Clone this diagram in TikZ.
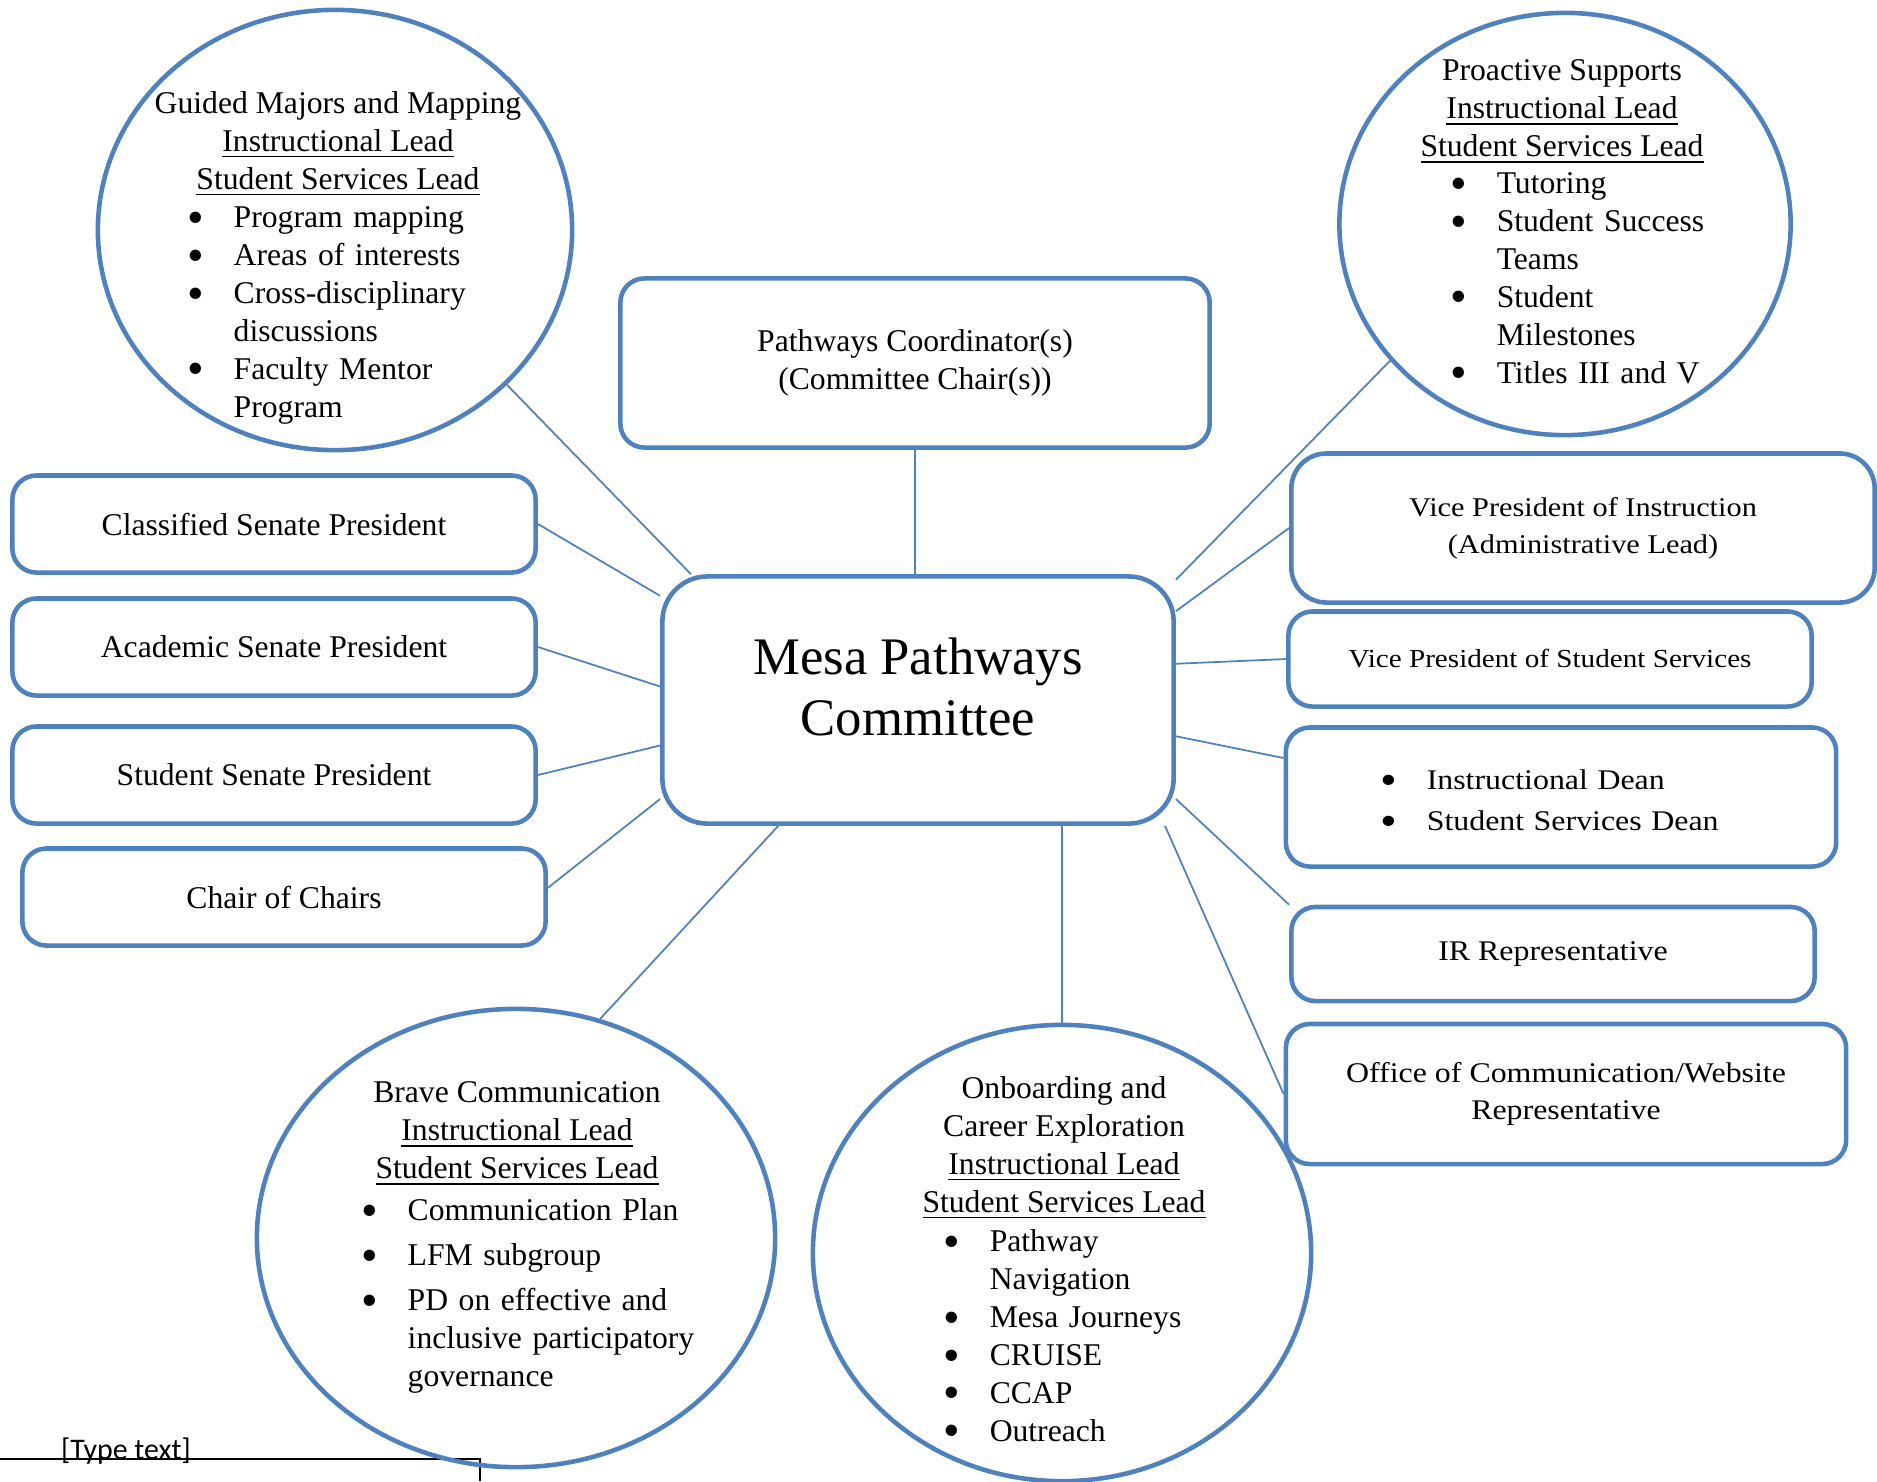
\documentclass[tikz,border=0pt]{standalone}
\usepackage{fontspec}
\setmainfont{Liberation Serif}
\newfontfamily\widefont{Liberation Serif}[FakeStretch=1.12]
\newfontfamily\hdrfont{Carlito}
\usetikzlibrary{shapes.geometric}
\definecolor{mpblue}{RGB}{79,129,189}
\newcommand{\boxfont}{\fontsize{9}{10.8}\selectfont}
\newcommand{\wide}[2]{\widefont\fontsize{#1}{#2}\selectfont}
\newcommand{\bul}[1]{\hangindent=0.46cm\hangafter=1\noindent\makebox[0.46cm][l]{\raisebox{-0.17em}{\scalebox{1.5}{\textbullet}}}#1\par}

\begin{document}
\begin{tikzpicture}[x=0.01cm, y=-0.01cm,
    role/.style={draw=mpblue, line width=1.3pt, rounded corners=0.24cm, inner sep=0pt, align=center, font=\boxfont},
    ring/.style={ellipse, draw=mpblue, line width=1.3pt, inner sep=0pt},
    head/.style={align=center, font=\boxfont, inner sep=0pt},
    items/.style={anchor=north west, text width=4cm, align=left, font=\boxfont, inner sep=0pt},
    link/.style={draw=mpblue, line width=0.5pt}]
  \useasboundingbox (0,0) rectangle (1877,1481);

  \node[font=\hdrfont\fontsize{8.5}{10}\selectfont, anchor=base, inner sep=0pt] (typetext) at (126,1459) {[Type text]};
  \draw[line width=0.4pt] (0,1459) -- (480,1459) -- (480,1481);

  \node[role, minimum width=5.89cm, minimum height=1.69cm] (pc) at (915,363) {Pathways Coordinator(s)\\(Committee Chair(s))};
  \node[role, rounded corners=0.45cm, minimum width=5.11cm, minimum height=2.47cm] (mpc) at (918,700) {};
  \node[head, font=\fontsize{15}{17.5}\selectfont] (mpctitle) at (918,687) {Mesa Pathways\\Committee};

  \node[role, minimum width=5.23cm, minimum height=0.97cm] (cls) at (274,524) {Classified Senate President};
  \node[role, minimum width=5.23cm, minimum height=0.97cm] (acd) at (274,647) {Academic Senate President};
  \node[role, minimum width=5.23cm, minimum height=0.97cm] (ssp) at (274,775) {Student Senate President};
  \node[role, minimum width=5.23cm, minimum height=0.97cm] (coc) at (284,897) {Chair of Chairs};

  \node[role, rounded corners=0.35cm, minimum width=5.83cm, minimum height=1.49cm, font={\wide{7.7}{10.5}}] (vpi) at (1583,528) {Vice President of Instruction\\(Administrative Lead)};
  \node[role, minimum width=5.23cm, minimum height=0.95cm, font={\wide{7.4}{10}}] (vpss) at (1550,659) {Vice President of Student Services};
  \node[role, minimum width=5.5cm, minimum height=1.39cm] (dean) at (1561,797) {};
  \node[items, font={\wide{8.1}{11.6}}] (deanlist) at (1380,769) {\bul{Instructional Dean}\bul{Student Services Dean}};
  \node[role, minimum width=5.23cm, minimum height=0.94cm, font={\wide{8.1}{10.5}}] (ir) at (1553,954) {IR Representative};
  \node[role, minimum width=5.6cm, minimum height=1.4cm, font={\wide{8.1}{10.5}}] (off) at (1566,1094) {Office of Communication/Website\\Representative};

  \node[ring, minimum width=4.74cm, minimum height=4.40cm] (gm) at (335,230) {};
  \node[head] (gmhead) at (338,144) {Guided Majors and Mapping\\\underline{Instructional Lead}\\\underline{Student Services Lead}};
  \node[items] (gmlist) at (187,206) {\bul{Program mapping}\bul{Areas of interests}\bul{Cross-disciplinary\newline discussions}\bul{Faculty Mentor\newline Program}};

  \node[ring, minimum width=4.51cm, minimum height=4.22cm] (ps) at (1565,224) {};
  \node[head] (pshead) at (1562,112) {Proactive Supports\\\underline{Instructional Lead}\\\underline{Student Services Lead}};
  \node[items] (pslist) at (1450,172) {\bul{Tutoring}\bul{Student Success\newline Teams}\bul{Student\newline Milestones}\bul{Titles III and V}};

  \node[ring, minimum width=5.18cm, minimum height=4.58cm] (bc) at (516,1238) {};
  \node[head] (bchead) at (517,1134) {Brave Communication\\\underline{Instructional Lead}\\\underline{Student Services Lead}};
  \node[items] (bclist) at (361,1198) {\setlength{\parskip}{2pt}\bul{Communication Plan}\bul{LFM subgroup}\bul{PD on effective and\newline inclusive participatory\newline governance}};

  \node[ring, minimum width=4.98cm, minimum height=4.56cm] (oc) at (1062,1253) {};
  \node[head] (ochead) at (1064,1148) {Onboarding and\\Career Exploration\\\underline{Instructional Lead}\\\underline{Student Services Lead}};
  \node[items] (oclist) at (943,1229) {\bul{Pathway\newline Navigation}\bul{Mesa Journeys}\bul{CRUISE}\bul{CCAP}\bul{Outreach}};

  \draw[link] (gm.-42.5) to (mpc.151.8);
  \draw[link] (cls.east) to (mpc.158.3);
  \draw[link] (acd.east) to (mpc.177.2);
  \draw[link] (ssp.east) to (mpc.190.1);
  \draw[link] (coc.2.5) to (mpc.201.7);
  \draw[link] (pc.south) to (pc.south |- mpc.north);
  \draw[link] (bc.69) to (mpc.222.3);
  \draw[link] (oc.north) to (oc.north |- mpc.south);
  \draw[link] (ps.218.4) to (mpc.25.5);
  \draw[link] (vpi.west) to (mpc.19.9);
  \draw[link] (vpss.west) to (mpc.8.8);
  \draw[link] (dean.172.2) to (mpc.-8.6);
  \draw[link] (ir.north west) to (mpc.-21.7);
  \draw[link] (off.west) to (mpc.-27);
\end{tikzpicture}
\end{document}
